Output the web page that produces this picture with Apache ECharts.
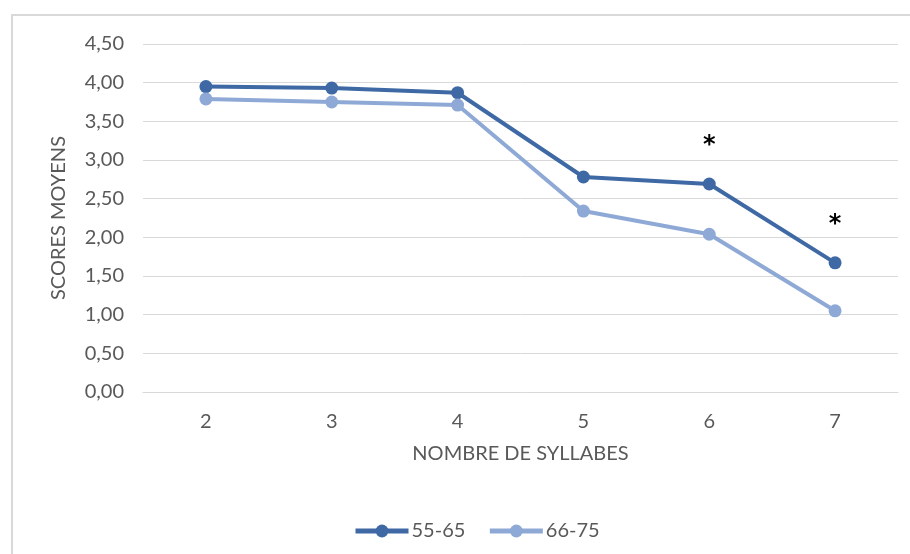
<!DOCTYPE html>
<html>
<head>
<meta charset="utf-8">
<script src="https://cdn.jsdelivr.net/npm/echarts@6/dist/echarts.min.js"></script>
<style>
  html, body { margin: 0; padding: 0; background: #fff; }
  #frame { position: absolute; left: 11px; top: 14px; width: 920px; height: 560px; border: 2px solid #d9d9d9; box-sizing: border-box; }
  #main { position: absolute; left: 0; top: 0; width: 910px; height: 554px; }
</style>
</head>
<body>
<div id="frame"></div>
<div id="main"></div>
<script>
// données
var syllabes = ['2', '3', '4', '5', '6', '7'];
var groupe1 = [3.95, 3.93, 3.87, 2.78, 2.69, 1.67];   // 55-65
var groupe2 = [3.79, 3.75, 3.71, 2.34, 2.04, 1.05];   // 66-75
var signif  = ['', '', '', '', '*', '*'];

var dark = '#3f69a4';
var light = '#8fa9d6';
var txt = '#595959';
var font = 'Lato';

var data1 = groupe1.map(function (v, i) {
    return {
        value: v,
        label: {
            show: signif[i] !== '',
            formatter: signif[i],
            position: 'top',
            distance: 20,
            color: '#000',
            fontSize: 24,
            fontWeight: 'bold',
            fontFamily: 'DejaVu Sans'
        }
    };
});

var option = {
    animation: false,
    textStyle: { fontFamily: font },
    grid: { left: 143, right: 12, top: 44, bottom: 162 },
    legend: {
        top: 516,
        left: 348,
        itemWidth: 53,
        itemHeight: 16,
        itemGap: 22,
        itemStyle: { borderWidth: 0 },
        lineStyle: { width: 5 },
        textStyle: { color: txt, fontSize: 20, fontFamily: font, padding: [0, 0, 0, -2] },
        data: ['55-65', '66-75']
    },
    xAxis: {
        type: 'category',
        data: syllabes,
        boundaryGap: true,
        name: 'NOMBRE DE SYLLABES',
        nameLocation: 'middle',
        nameGap: 52,
        nameTextStyle: { color: txt, fontSize: 20 },
        axisLine: { lineStyle: { color: '#d9d9d9', width: 1 } },
        axisTick: { show: false },
        axisLabel: { color: txt, fontSize: 20, margin: 20 }
    },
    yAxis: {
        type: 'value',
        min: 0,
        max: 4.5,
        interval: 0.5,
        name: 'SCORES MOYENS',
        nameLocation: 'middle',
        nameGap: 74,
        nameTextStyle: { color: txt, fontSize: 20 },
        axisLine: { show: false },
        axisTick: { show: false },
        splitLine: { lineStyle: { color: '#d9d9d9', width: 1 } },
        axisLabel: {
            color: txt,
            fontSize: 20,
            margin: 19,
            formatter: function (v) { return v.toFixed(2).replace('.', ','); }
        }
    },
    series: [
        {
            name: '55-65',
            type: 'line',
            data: data1,
            symbol: 'circle',
            symbolSize: 13,
            lineStyle: { color: dark, width: 4 },
            itemStyle: { color: dark }
        },
        {
            name: '66-75',
            type: 'line',
            data: groupe2,
            symbol: 'circle',
            symbolSize: 13,
            lineStyle: { color: light, width: 4 },
            itemStyle: { color: light }
        }
    ]
};

echarts.init(document.getElementById('main')).setOption(option);
</script>
</body>
</html>
